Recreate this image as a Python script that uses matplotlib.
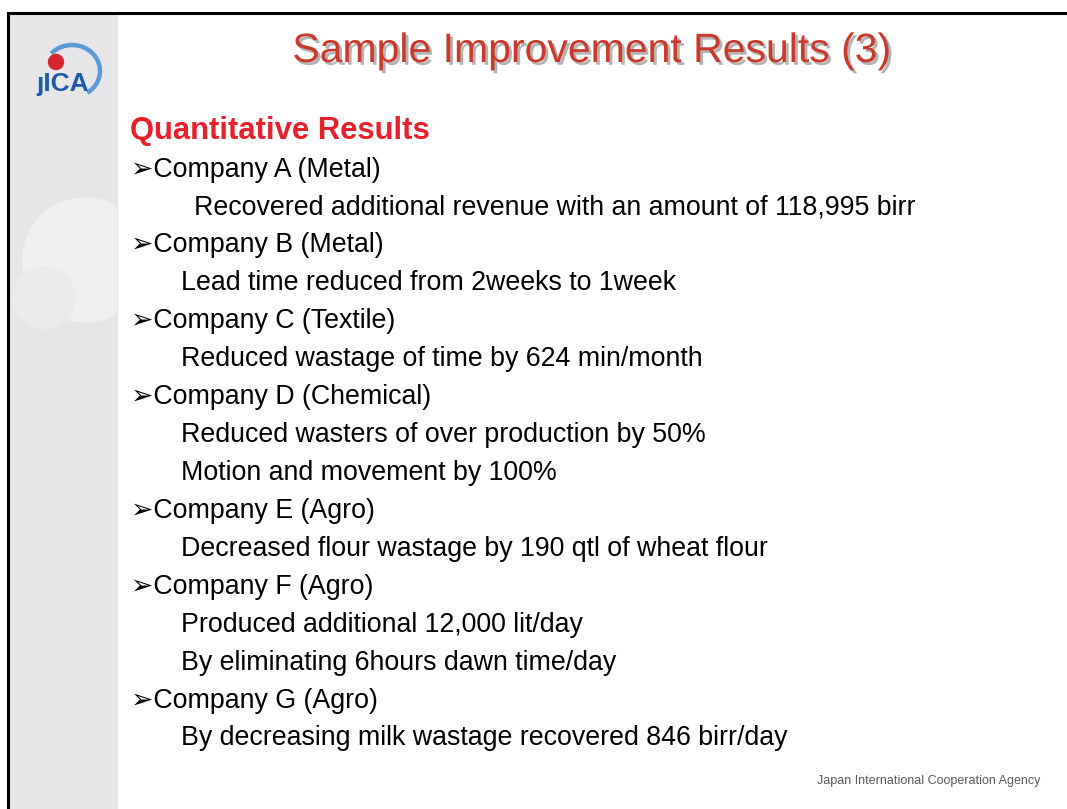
import matplotlib
matplotlib.use('Agg')
import matplotlib.pyplot as plt
from matplotlib.patches import Rectangle, Circle, Arc
import matplotlib.patheffects as pe

W, H = 1067, 809

title = 'Sample Improvement Results (3)'
heading = 'Quantitative Results'
companies = ['Company A (Metal)', 'Company B (Metal)', 'Company C (Textile)',
             'Company D (Chemical)', 'Company E (Agro)', 'Company F (Agro)',
             'Company G (Agro)']
results = [
    ['Recovered additional revenue with an amount of 118,995 birr'],
    ['Lead time reduced from 2weeks to 1week'],
    ['Reduced wastage of time by 624 min/month'],
    ['Reduced wasters of over production by 50%', 'Motion and movement by 100%'],
    ['Decreased flour wastage by 190 qtl of wheat flour'],
    ['Produced additional 12,000 lit/day', 'By eliminating 6hours dawn time/day'],
    ['By decreasing milk wastage recovered 846 birr/day'],
]
footer = 'Japan International Cooperation Agency'

body_font = ['Liberation Sans', 'DejaVu Sans']

fig = plt.figure(figsize=(W / 100, H / 100), dpi=100)
ax = fig.add_axes([0, 0, 1, 1])
ax.set_xlim(0, W)
ax.set_ylim(H, 0)
ax.axis('off')

# sidebar with faint circles
side = Rectangle((9, 14), 108, H - 14, color='#e6e6e8', zorder=0)
ax.add_patch(side)
big = Circle((85, 260), 62, color='#eff0f1', zorder=1)
small = Circle((44, 298), 31, color='#ebebed', zorder=2)
for c in (big, small):
    ax.add_patch(c)
    c.set_clip_path(side)

# frame
ax.plot([8, 8], [13, H], color='black', lw=2.2, zorder=5)
ax.plot([8, W], [13, 13], color='black', lw=2.2, zorder=5)

# jica logo
ax.add_patch(Arc((72, 71), 56, 52, angle=0, theta1=-140, theta2=55,
                 color='#5b9ad8', lw=3.2, zorder=3))
ax.add_patch(Circle((56, 62), 7.5, color='#d7262e', zorder=4))
ax.text(36, 91, '\u0237ICA', fontsize=19, fontweight='bold', color='#1e5aa8',
        family=body_font, ha='left', va='baseline', zorder=3)

# title
ax.text(592, 62, title, fontsize=29.5, color='#c93a2c', ha='center', va='baseline',
        family=['Liberation Sans Narrow', 'Liberation Sans', 'DejaVu Sans'],
        path_effects=[pe.withSimplePatchShadow(offset=(2, -2), shadow_rgbFace='#a0a0a0', alpha=0.8)])

# heading
ax.text(130, 138.5, heading, fontsize=22.3, fontweight='bold', color='#e8202a',
        ha='left', va='baseline', family=body_font)

y = 176.5
step = 37.93
for i, (comp, res) in enumerate(zip(companies, results)):
    ax.text(131, y, '\u27a2' + comp, fontsize=19.3, color='black', ha='left',
            va='baseline', family=body_font)
    y += step
    for line in res:
        x0 = 194 if i == 0 else 181
        ax.text(x0, y, line, fontsize=19.3, color='black', ha='left',
                va='baseline', family=body_font)
        y += step

ax.text(1040, 784, footer, fontsize=9, color='#5a5a5a', ha='right',
        va='baseline', family=body_font)

fig.savefig('out.png', dpi=100)
